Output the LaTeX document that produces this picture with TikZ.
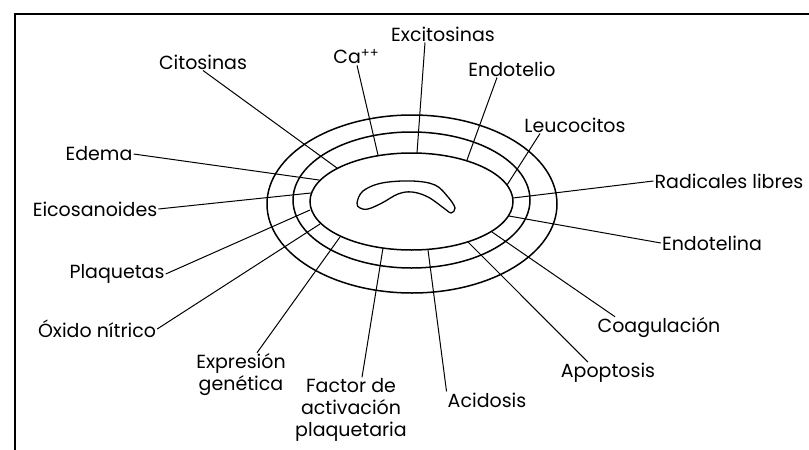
\documentclass[tikz,border=0pt]{standalone}
\usepackage{fontspec}
\setmainfont{Poppins}
\begin{document}
\begin{tikzpicture}[x=1pt,y=-1pt,
  lbl/.style={inner sep=1pt, font=\fontsize{19}{22}\selectfont},
  ring/.style={line width=1.5pt},
  conn/.style={line width=1pt}]
\useasboundingbox (0,0) rectangle (809,450);
\fill[white] (0,0) rectangle (809,450);
% frame
\draw[line width=1.8pt] (15,450) -- (15,14) -- (809,14);
% rings
\draw[ring] (412,204) ellipse [x radius=145, y radius=89];
\draw[ring] (411.5,200) ellipse [x radius=118.5, y radius=68];
\draw[ring] (411.5,201.5) ellipse [x radius=101.5, y radius=48.5];
% lumen
\draw[line width=1.3pt] plot[smooth cycle, tension=0.6] coordinates {
 (357,203) (363,191) (382,183) (412,181) (435,185) (448,197) (455,208)
 (451,213) (445,209) (428,197) (412,192) (398,194) (382,203) (368,209) (360,208)};
% end points on inner ellipse
\coordinate (pCit) at (337,168);
\coordinate (pCa) at (378,155);
\coordinate (pExc) at (417,153);
\coordinate (pEndo) at (467,160);
\coordinate (pLeu) at (507,185);
\coordinate (pRad) at (513,198);
\coordinate (pEndt) at (509,216);
\coordinate (pCoag) at (492,232);
\coordinate (pApo) at (468,242);
\coordinate (pAci) at (428,250);
\coordinate (pFac) at (383,248);
\coordinate (pExp) at (340,237);
\coordinate (pOx) at (320,224);
\coordinate (pPla) at (310,210);
\coordinate (pEic) at (311,193);
\coordinate (pEde) at (319,180);
% labels
\node[lbl] (cit) at (203,62) {Citosinas};
\node[lbl] (ca) at (356,57) {Ca\raisebox{6pt}{\fontsize{13}{13}\selectfont ++}};
\node[lbl] (exc) at (443,34) {Excitosinas};
\node[lbl] (endo) at (512,69) {Endotelio};
\node[lbl] (leu) at (575,125) {Leucocitos};
\node[lbl] (rad) at (729,181) {Radicales libres};
\node[lbl] (endt) at (712,243) {Endotelina};
\node[lbl] (coag) at (659,328) {Coagulación};
\node[lbl] (apo) at (608,373) {Apoptosis};
\node[lbl] (aci) at (487,400) {Acidosis};
\node[lbl, align=center] (fac) at (351,410) {Factor de\\activación\\plaquetaria};
\node[lbl, align=center] (exp) at (241,375) {Expresión\\genética};
\node[lbl] (ox) at (97,329) {Óxido nítrico};
\node[lbl] (pla) at (117,274) {Plaquetas};
\node[lbl] (eic) at (95,209) {Eicosanoides};
\node[lbl] (ede) at (99,154) {Edema};
% connectors
\draw[conn] (cit.south) -- (pCit);
\draw[conn] ([xshift=1pt]ca.south) -- (pCa);
\draw[conn] ([xshift=-18pt]exc.south) -- (pExc);
\draw[conn] ([xshift=-15pt]endo.south) -- (pEndo);
\draw[conn] ([xshift=-35pt]leu.south) -- (pLeu);
\draw[conn] (rad.west) -- (pRad);
\draw[conn] (endt.west) -- (pEndt);
\draw[conn] ([xshift=-44pt]coag.north) -- (pCoag);
\draw[conn] ([xshift=-20pt]apo.north) -- (pApo);
\draw[conn] (aci.north west) -- (pAci);
\draw[conn] ([xshift=11pt]fac.north) -- (pFac);
\draw[conn] ([xshift=16pt]exp.north) -- (pExp);
\draw[conn] (ox.east) -- (pOx);
\draw[conn] (pla.east) -- (pPla);
\draw[conn] (eic.east) -- (pEic);
\draw[conn] (ede.east) -- (pEde);
\end{tikzpicture}
\end{document}
